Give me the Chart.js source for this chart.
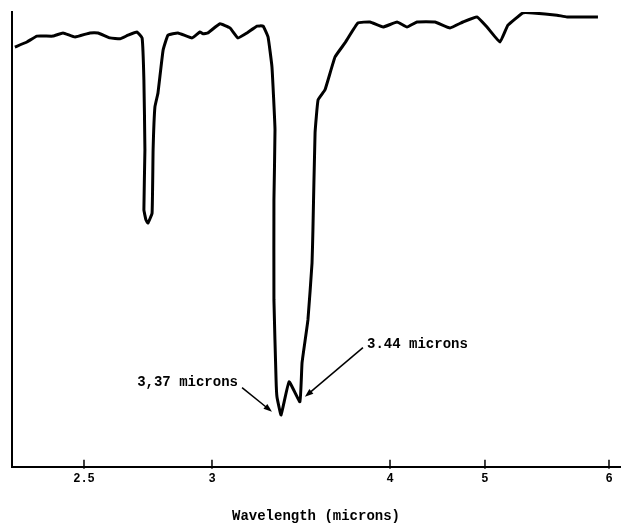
<!DOCTYPE html>
<html lang="en">
<head>
  <meta charset="UTF-8">
  <title>IR spectrum</title>
  <script src="https://cdn.jsdelivr.net/npm/chart.js"></script>
  <style>
    body { margin: 0; background: #fff; }
    .chart-box { width: 621px; height: 525px; }
  </style>
</head>
<body>
  <div class="chart-box"><canvas id="spectrum"></canvas></div>
  <script>
    // Wavelength (microns) and transmittance (%)
    const wavelength = [
      2.230, 2.277, 2.316, 2.379, 2.418, 2.465, 2.523, 2.555, 2.602, 2.641,
      2.672, 2.707, 2.727, 2.734, 2.738, 2.734, 2.742, 2.750, 2.766, 2.770,
      2.777, 2.789, 2.809, 2.828, 2.867, 2.922, 2.953, 2.965, 2.984, 3.045,
      3.101, 3.146, 3.197, 3.253, 3.287, 3.315, 3.337, 3.354, 3.348, 3.348,
      3.360, 3.365, 3.388, 3.433, 3.494, 3.506, 3.539, 3.562, 3.567, 3.579,
      3.596, 3.635, 3.691, 3.747, 3.820, 3.888, 3.961, 4.074, 4.179, 4.284,
      4.474, 4.632, 4.768, 4.916, 5.016, 5.121, 5.185, 5.306, 5.387, 5.581,
      5.661, 5.911
    ];
    const transmittance = [
      92.3, 93.4, 94.7, 94.7, 95.4, 94.5, 95.4, 95.4, 94.3, 94.1,
      94.9, 95.6, 94.3, 85.1, 69.7, 56.5, 54.3, 53.6, 55.8, 69.7,
      79.1, 82.2, 91.6, 94.9, 95.4, 94.3, 95.6, 95.2, 95.4, 97.4,
      96.5, 94.3, 95.4, 96.9, 96.9, 94.5, 87.9, 74.1, 58.7, 36.7,
      19.1, 15.4, 11.4, 18.7, 14.3, 22.9, 32.3, 44.8, 52.1, 73.4,
      80.7, 82.9, 90.1, 93.2, 97.6, 97.8, 96.7, 97.8, 96.7, 97.8,
      97.8, 96.5, 97.8, 98.9, 96.7, 93.4, 97.1, 99.8, 99.8, 99.3,
      98.9, 98.9
    ];

    // Axis ticks: the chart paper is not linear in wavelength,
    // so each labelled wavelength gets its own place on the scale
    const tickMicrons = [2.5, 3, 4, 5, 6];
    const tickLabels = ['2.5', '3', '4', '5', '6'];
    const tickPlaces = [0, 1, 2.391, 3.133, 4.102];
    const axisRange = [-0.5625, 4.188];

    // Pointers to the two C-H peaks
    const notes = [
      { text: '3,37 microns', at: [3.146, 18.5], align: 'right', from: [3.169, 17.4], to: [3.337, 12.1] },
      { text: '3.44 microns', at: [3.871, 26.8], align: 'left', from: [3.848, 26.2], to: [3.522, 15.4] }
    ];

    // piecewise-linear wavelength -> scale place
    function place(w) {
      let i = 0;
      if (w > tickMicrons[tickMicrons.length - 1]) i = tickMicrons.length - 2;
      else {
        while (i < tickMicrons.length - 2 && w > tickMicrons[i + 1]) i++;
      }
      const t = (w - tickMicrons[i]) / (tickMicrons[i + 1] - tickMicrons[i]);
      return tickPlaces[i] + t * (tickPlaces[i + 1] - tickPlaces[i]);
    }

    const points = wavelength.map((w, i) => ({ x: place(w), y: transmittance[i] }));
    const FONT = '"Liberation Mono", "DejaVu Sans Mono", monospace';

    // little tick marks standing on the axis + the arrow notes
    const paperMarks = {
      id: 'paperMarks',
      afterDraw(chart) {
        const { ctx, scales: { x, y } } = chart;
        const bottom = chart.chartArea.bottom;
        ctx.save();
        ctx.strokeStyle = '#000';
        ctx.fillStyle = '#000';
        ctx.lineWidth = 1.5;
        tickMicrons.forEach(w => {
          const px = x.getPixelForValue(place(w));
          ctx.beginPath();
          ctx.moveTo(px, bottom - 7);
          ctx.lineTo(px, bottom + 2);
          ctx.stroke();
        });

        ctx.font = 'bold 14px ' + FONT;
        ctx.textBaseline = 'middle';
        notes.forEach(n => {
          ctx.textAlign = n.align;
          ctx.fillText(n.text, x.getPixelForValue(place(n.at[0])), y.getPixelForValue(n.at[1]));
          const x1 = x.getPixelForValue(place(n.from[0])), y1 = y.getPixelForValue(n.from[1]);
          const x2 = x.getPixelForValue(place(n.to[0])), y2 = y.getPixelForValue(n.to[1]);
          const ang = Math.atan2(y2 - y1, x2 - x1);
          ctx.lineWidth = 1.5;
          ctx.beginPath();
          ctx.moveTo(x1, y1);
          ctx.lineTo(x2 - 6 * Math.cos(ang), y2 - 6 * Math.sin(ang));
          ctx.stroke();
          ctx.beginPath();
          ctx.moveTo(x2, y2);
          ctx.lineTo(x2 - 9 * Math.cos(ang - 0.35), y2 - 9 * Math.sin(ang - 0.35));
          ctx.lineTo(x2 - 9 * Math.cos(ang + 0.35), y2 - 9 * Math.sin(ang + 0.35));
          ctx.closePath();
          ctx.fill();
        });
        ctx.restore();
      }
    };

    new Chart(document.getElementById('spectrum'), {
      type: 'scatter',
      data: {
        datasets: [{
          data: points,
          showLine: true,
          borderColor: '#000',
          borderWidth: 3,
          pointRadius: 0,
          tension: 0.1,
          fill: false
        }]
      },
      options: {
        responsive: true,
        maintainAspectRatio: false,
        animation: false,
        layout: { padding: { left: 12, top: 12, right: 1, bottom: 0 } },
        plugins: { legend: { display: false }, tooltip: { enabled: false } },
        scales: {
          x: {
            type: 'linear',
            min: axisRange[0],
            max: axisRange[1],
            grid: { display: false, drawTicks: false },
            border: { display: true, color: '#000', width: 2 },
            afterBuildTicks: scale => {
              scale.ticks = tickMicrons.map(w => ({ value: place(w) }));
            },
            ticks: {
              autoSkip: false,
              maxRotation: 0,
              padding: 5,
              color: '#000',
              font: { family: FONT, size: 12, weight: 'bold' },
              callback: (v, i) => tickLabels[i]
            },
            title: {
              display: true,
              text: 'Wavelength (microns)',
              color: '#000',
              font: { family: FONT, size: 14, weight: 'bold' },
              padding: { top: 17, bottom: 0 }
            }
          },
          y: {
            min: 0,
            max: 100,
            grid: { display: false, drawTicks: false },
            border: { display: true, color: '#000', width: 2 },
            ticks: { display: false }
          }
        }
      },
      plugins: [paperMarks]
    });
  </script>
</body>
</html>
